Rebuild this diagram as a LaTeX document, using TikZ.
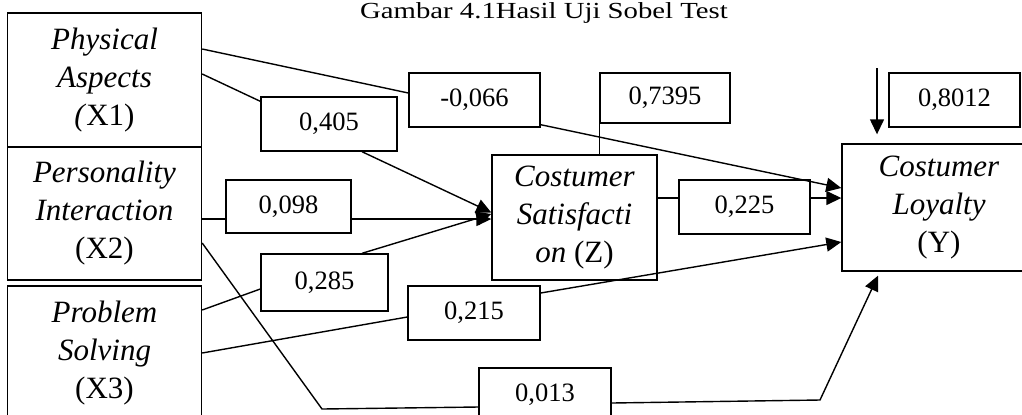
\documentclass[tikz,border=0pt]{standalone}
\usepackage{fontspec}
\setmainfont{Liberation Serif}
\usetikzlibrary{arrows.meta}
\begin{document}
\begin{tikzpicture}[x=0.5pt,y=-0.5pt,line width=0.7pt,>={Triangle[length=7.5pt,width=7pt]}]
  \tikzstyle{var} = [draw, align=center, minimum width=97pt, inner sep=0pt, font=\fontsize{15.5}{19}\selectfont]
  \tikzstyle{coef} = [draw, minimum height=27pt, inner sep=0pt, font=\fontsize{13.25}{16}\selectfont]
  \useasboundingbox (0,0) rectangle (1022,414);
  \clip (0,0) rectangle (1022,414);
  \node[font=\fontsize{11.5}{13}\selectfont, inner sep=0pt, anchor=base] (title) at (544,18) {\scalebox{1.25}[1]{Gambar 4.1Hasil Uji Sobel Test}};
  \node[var, minimum height=67pt] (X1) at (104.5,80) {\textit{Physical}\\\textit{Aspects}\\\textit{(}X1)};
  \node[var, minimum height=66.5pt] (X2) at (104.5,213.5) {\textit{Personality}\\\textit{Interaction}\\(X2)};
  \node[var, minimum height=67pt] (X3) at (104.5,353) {\textit{Problem}\\\textit{Solving}\\(X3)};
  \node[var, minimum width=82.5pt, minimum height=62.5pt] (Z) at (574.5,217.5) {\textit{Costumer}\\\textit{Satisfacti}\\\textit{on} (Z)};
  \node[var, minimum height=63.5pt] (Y) at (939,207.5) {\textit{Costumer}\\\textit{Loyalty}\\(Y)};
  \node[coef, minimum width=68pt] (c405) at (329,124) {0,405};
  \node[coef, minimum width=65.5pt] (c066) at (474.5,100) {-0,066};
  \node[coef, minimum width=65pt, minimum height=25pt] (c7395) at (665,98) {0,7395};
  \node[coef, minimum width=65.5pt] (c8012) at (954.5,100) {0,8012};
  \node[coef, minimum width=62.5pt, minimum height=26.5pt] (c098) at (288.5,206.5) {0,098};
  \node[coef, minimum width=65.5pt] (c225) at (744.5,207) {0,225};
  \node[coef, minimum width=63.5pt, minimum height=28.5pt] (c285) at (324.5,282.5) {0,285};
  \node[coef, minimum width=66pt] (c215) at (474,313) {0,215};
  \node[coef, minimum width=66pt] (c013) at (545,395) {0,013};
  \coordinate (r2) at (0,219);
  \coordinate (r3) at (0,198);
  \coordinate (b1) at (322,409);
  \coordinate (b2) at (820,400);
  \coordinate (e2) at (877,68);
  \draw ([yshift=15.5pt]X1.east) -- ([yshift=3.5pt]c066.west);
  \draw[->] ([yshift=1.5pt]c066.south east) -- ([yshift=9.75pt]Y.west);
  \draw ([yshift=3pt]X1.east) -- ([yshift=-2.5pt]c405.north west);
  \draw[->] ([xshift=16.5pt]c405.south) -- ([yshift=2.5pt]Z.west);
  \draw (X2.east |- r2) -- (c098.west |- r2);
  \draw[->] (c098.east |- r2) -- (Z.west |- r2);
  \draw ([yshift=21.5pt]X3.east) -- ([yshift=-3.25pt]c285.west);
  \draw[->] ([xshift=18.75pt]c285.north) -- ([yshift=1.75pt]Z.west);
  \draw (X3.east) -- ([yshift=-2pt]c215.west);
  \draw[->] ([yshift=10pt]c215.east) -- ([yshift=-17.25pt]Y.west);
  \draw ([yshift=-14.75pt]X2.east) -- (b1) -- ([yshift=-6pt]c013.west);
  \draw[->] ([yshift=-4pt]c013.east) -- (b2) -- ([xshift=-30.5pt,yshift=-2pt]Y.south);
  \draw (Z.east |- r3) -- (c225.west |- r3);
  \draw[->] (c225.east |- r3) -- (Y.west |- r3);
  \draw (c7395.south west) -- (c7395.south west |- Z.north);
  \draw[->] (e2) -- ([yshift=4.5pt]Y.north -| e2);
\end{tikzpicture}
\end{document}
